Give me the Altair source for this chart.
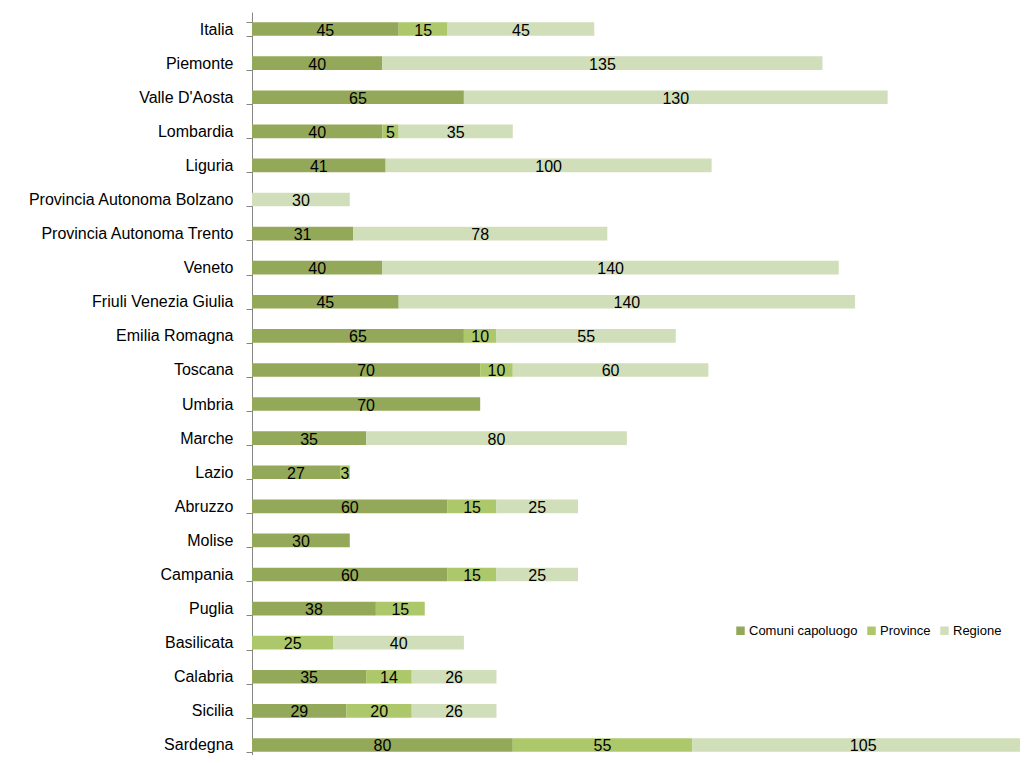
import altair as alt
import pandas as pd

regioni = ["Italia", "Piemonte", "Valle D'Aosta", "Lombardia", "Liguria",
           "Provincia Autonoma Bolzano", "Provincia Autonoma Trento", "Veneto",
           "Friuli Venezia Giulia", "Emilia Romagna", "Toscana", "Umbria", "Marche",
           "Lazio", "Abruzzo", "Molise", "Campania", "Puglia", "Basilicata",
           "Calabria", "Sicilia", "Sardegna"]
comuni = [45, 40, 65, 40, 41, 0, 31, 40, 45, 65, 70, 70, 35, 27, 60, 30, 60, 38, 0, 35, 29, 80]
province = [15, 0, 0, 5, 0, 0, 0, 0, 0, 10, 10, 0, 0, 3, 15, 0, 15, 15, 25, 14, 20, 55]
regione = [45, 135, 130, 35, 100, 30, 78, 140, 140, 55, 60, 0, 80, 0, 25, 0, 25, 0, 40, 26, 26, 105]

serie = ["Comuni capoluogo", "Province", "Regione"]
colori = ["#93A959", "#ADC86B", "#D1DEBA"]

rows = []
for i, r in enumerate(regioni):
    for k, (s, v) in enumerate(zip(serie, [comuni[i], province[i], regione[i]])):
        if v > 0:
            rows.append({"regione": r, "serie": s, "ordine": k, "valore": v})
df = pd.DataFrame(rows)

FONT = "Liberation Sans"

base = alt.Chart(df).transform_stack(
    stack="valore", groupby=["regione"], as_=["x0", "x1"],
    sort=[alt.SortField("ordine", "ascending")]
).transform_calculate(mid="(datum.x0 + datum.x1) / 2")

yenc = alt.Y("regione:N", sort=regioni, title=None,
             scale=alt.Scale(paddingInner=0.6, paddingOuter=0.3, range=[0, 750]),
             axis=alt.Axis(labelFont=FONT, labelFontSize=16, labelColor="#000000",
                           domainColor="#868686", tickColor="#868686", tickSize=6,
                           tickBand="extent", labelPadding=13, labelLimit=300))

xscale = alt.Scale(domain=[0, 235.6], nice=False, zero=True)

bars = base.mark_bar(clip=True).encode(
    y=yenc,
    x=alt.X("x0:Q", scale=xscale, axis=None),
    x2="x1:Q",
    color=alt.Color("serie:N", scale=alt.Scale(domain=serie, range=colori),
                    legend=alt.Legend(title=None, orient="none", legendX=482, legendY=612,
                                      direction="horizontal", symbolType="square",
                                      symbolSize=72, symbolStrokeWidth=0,
                                      labelFont=FONT, labelFontSize=13,
                                      labelColor="#000000", columnPadding=7,
                                      symbolOffset=0, labelOffset=2)),
    order=alt.Order("ordine:Q"),
)

labels = base.mark_text(font=FONT, fontSize=16, color="#000000", baseline="middle", dy=1.5).encode(
    y=alt.Y("regione:N", sort=regioni),
    x=alt.X("mid:Q", scale=xscale, axis=None),
    text="valore:Q",
)

chart = alt.layer(bars, labels).properties(
    width=768, height=743,
    autosize=alt.AutoSizeParams(type="none"),
    padding={"left": 244, "top": 4, "right": 0, "bottom": 0},
).configure(background="white").configure_view(stroke=None)

chart.save("out.html", embed_options={"renderer": "svg", "actions": False})
